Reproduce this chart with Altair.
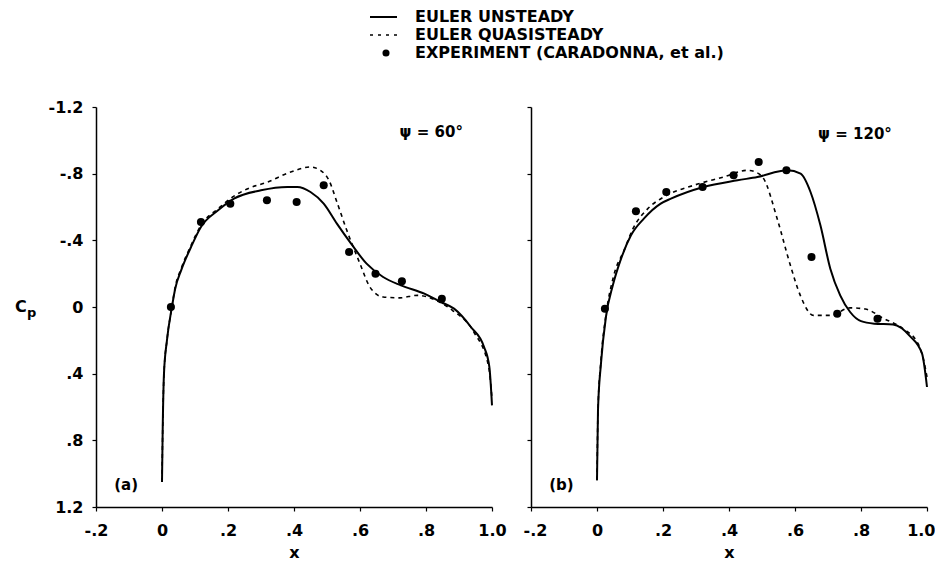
import altair as alt
import pandas as pd

FONT = "DejaVu Sans"

# ---------------- axis ticks ----------------
x_ticks = [-0.2, 0.0, 0.2, 0.4, 0.6, 0.8, 1.0]
x_tick_labels = ["-.2", "0", ".2", ".4", ".6", ".8", "1.0"]
y_ticks = [-1.2, -0.8, -0.4, 0.0, 0.4, 0.8, 1.2]
y_tick_labels = ["-1.2", "-.8", "-.4", "0", ".4", ".8", "1.2"]

legend_labels = ["EULER UNSTEADY", "EULER QUASISTEADY", "EXPERIMENT (CARADONNA, et al.)"]

# ---------------- panel (a): psi = 60 deg ----------------
a_uns_x = [0.000, 0.002, 0.006, 0.015, 0.030, 0.040, 0.058, 0.088, 0.118, 0.170, 0.218, 0.300,
           0.380, 0.410, 0.450, 0.490, 0.530, 0.573, 0.620, 0.670, 0.724, 0.795, 0.845, 0.885,
           0.936, 0.976, 0.992, 1.000]
a_uns_cp = [1.05, 0.75, 0.40, 0.20, 0.00, -0.11, -0.22, -0.36, -0.48, -0.58, -0.65, -0.70,
            -0.72, -0.72, -0.69, -0.62, -0.50, -0.38, -0.26, -0.18, -0.13, -0.08, -0.03, 0.01,
            0.12, 0.24, 0.36, 0.59]
a_qs_x = [0.000, 0.002, 0.006, 0.015, 0.030, 0.040, 0.058, 0.088, 0.118, 0.170, 0.218, 0.260,
          0.320, 0.390, 0.450, 0.480, 0.506, 0.530, 0.560, 0.600, 0.630, 0.670, 0.720, 0.775,
          0.830, 0.880, 0.945, 0.990, 1.000]
a_qs_cp = [1.05, 0.75, 0.40, 0.20, 0.00, -0.12, -0.23, -0.37, -0.49, -0.59, -0.665, -0.71,
           -0.75, -0.81, -0.84, -0.82, -0.76, -0.63, -0.46, -0.26, -0.12, -0.06, -0.055, -0.07,
           -0.04, 0.02, 0.15, 0.36, 0.55]
a_exp_x = [0.027, 0.118, 0.207, 0.318, 0.408, 0.490, 0.567, 0.647, 0.727, 0.848]
a_exp_cp = [0.00, -0.51, -0.62, -0.64, -0.63, -0.73, -0.33, -0.20, -0.155, -0.05]

# ---------------- panel (b): psi = 120 deg ----------------
b_uns_x = [0.000, 0.003, 0.012, 0.027, 0.048, 0.073, 0.103, 0.142, 0.193, 0.224, 0.323, 0.426,
           0.486, 0.577, 0.617, 0.647, 0.677, 0.707, 0.737, 0.767, 0.800, 0.840, 0.897, 0.949,
           0.985, 1.000]
b_uns_cp = [1.04, 0.62, 0.34, 0.06, -0.13, -0.29, -0.43, -0.53, -0.62, -0.65, -0.72, -0.76,
            -0.78, -0.82, -0.80, -0.69, -0.49, -0.23, -0.07, 0.03, 0.085, 0.10, 0.105, 0.176,
            0.28, 0.48]
b_qs_x = [0.000, 0.003, 0.012, 0.027, 0.051, 0.082, 0.109, 0.154, 0.202, 0.293, 0.384, 0.456,
          0.490, 0.505, 0.546, 0.586, 0.616, 0.656, 0.707, 0.767, 0.813, 0.867, 0.927, 0.973,
          0.990, 1.000]
b_qs_cp = [1.04, 0.62, 0.32, 0.05, -0.19, -0.34, -0.47, -0.59, -0.66, -0.73, -0.78, -0.82,
           -0.80, -0.77, -0.53, -0.25, -0.07, 0.05, 0.05, 0.005, 0.012, 0.067, 0.13, 0.22,
           0.32, 0.42]
b_exp_x = [0.024, 0.118, 0.210, 0.320, 0.414, 0.490, 0.574, 0.650, 0.728, 0.850]
b_exp_cp = [0.01, -0.575, -0.69, -0.72, -0.79, -0.87, -0.82, -0.30, 0.04, 0.07]

# annotation texts and anchor (data coords)
a_note, a_note_x, a_note_cp = "\u03c8 = 60\u00b0", 0.72, -1.05
b_note, b_note_x, b_note_cp = "\u03c8 = 120\u00b0", 0.67, -1.04
a_tag, b_tag = "(a)", "(b)"
tag_x, tag_cp = -0.145, 1.07


def label_expr(ticks, labels):
    expr = "''"
    for t, l in reversed(list(zip(ticks, labels))):
        expr = f"(abs(datum.value - ({t})) < 0.001 ? '{l}' : {expr})"
    return expr


def panel(uns_x, uns_cp, qs_x, qs_cp, exp_x, exp_cp, note, note_x, note_cp, tag, first):
    uns = pd.DataFrame({"x": uns_x, "cp": uns_cp, "i": list(range(len(uns_x)))})
    qs = pd.DataFrame({"x": qs_x, "cp": qs_cp, "i": list(range(len(qs_x)))})
    exp = pd.DataFrame({"x": exp_x, "cp": exp_cp})
    notes = pd.DataFrame({"x": [note_x, tag_x], "cp": [note_cp, tag_cp], "t": [note, tag],
                          "fs": [15, 15]})

    xaxis = alt.Axis(values=x_ticks, labelExpr=label_expr(x_ticks, x_tick_labels), title="x",
                     labelPadding=11, titlePadding=6, labelFlush=(not first),
                     labelFlushOffset=(8 if not first else 0), grid=False)
    yaxis = alt.Axis(values=y_ticks, labelExpr=label_expr(y_ticks, y_tick_labels), title=None,
                     labels=first, labelPadding=9, grid=False)
    xenc = alt.X("x:Q", scale=alt.Scale(domain=[-0.2, 1.0], nice=False, zero=False), axis=xaxis)
    yenc = alt.Y("cp:Q", scale=alt.Scale(domain=[-1.2, 1.2], reverse=True, nice=False, zero=False),
                 axis=yaxis)

    line_u = alt.Chart(uns).mark_line(color="black", strokeWidth=2, interpolate="monotone").encode(
        x=xenc, y=yenc, order="i:Q")
    line_q = alt.Chart(qs).mark_line(color="black", strokeWidth=1.6, strokeDash=[4, 4],
                                     interpolate="monotone").encode(x=xenc, y=yenc, order="i:Q")
    pts = alt.Chart(exp).mark_circle(color="black", size=65, opacity=1).encode(x=xenc, y=yenc)
    txt = alt.Chart(notes).mark_text(align="left", baseline="middle", font=FONT,
                                     fontWeight="bold", color="black").encode(
        x=xenc, y=yenc, text="t:N", size=alt.Size("fs:Q", scale=None, legend=None))
    layers = [line_q, line_u, pts, txt]

    if first:
        # y-axis title C_p
        cdf = pd.DataFrame({"t": ["C"]})
        pdf = pd.DataFrame({"t": ["p"]})
        layers.append(alt.Chart(cdf).mark_text(align="left", baseline="middle", font=FONT,
                                               fontWeight="bold", fontSize=16, color="black")
                      .encode(x=alt.value(-81), y=alt.datum(0), text="t:N"))
        layers.append(alt.Chart(pdf).mark_text(align="left", baseline="middle", font=FONT,
                                               fontWeight="bold", fontSize=13, color="black", dy=6)
                      .encode(x=alt.value(-69), y=alt.datum(0), text="t:N"))
        # legend
        for i, lab in enumerate(legend_labels):
            ldf = pd.DataFrame({"label": [lab]})
            layers.append(alt.Chart(ldf).mark_text(align="left", baseline="middle", font=FONT,
                                                   fontWeight="bold", fontSize=16, color="black")
                          .encode(x=alt.value(319), y=alt.value(-90 + 18 * i), text="label:N"))
        sym = pd.DataFrame({"label": legend_labels})
        layers.append(alt.Chart(sym).transform_filter(alt.datum.label == legend_labels[0])
                      .mark_rule(color="black", strokeWidth=2)
                      .encode(x=alt.value(274), x2=alt.value(301), y=alt.value(-90)))
        layers.append(alt.Chart(sym).transform_filter(alt.datum.label == legend_labels[1])
                      .mark_rule(color="black", strokeWidth=1.6, strokeDash=[3, 5])
                      .encode(x=alt.value(274), x2=alt.value(301), y=alt.value(-72)))
        layers.append(alt.Chart(sym).transform_filter(alt.datum.label == legend_labels[2])
                      .mark_circle(color="black", size=50, opacity=1)
                      .encode(x=alt.value(290), y=alt.value(-54)))

    return alt.layer(*layers).properties(width=396, height=400)


left = panel(a_uns_x, a_uns_cp, a_qs_x, a_qs_cp, a_exp_x, a_exp_cp, a_note, a_note_x, a_note_cp,
             a_tag, True)
right = panel(b_uns_x, b_uns_cp, b_qs_x, b_qs_cp, b_exp_x, b_exp_cp, b_note, b_note_x, b_note_cp,
              b_tag, False)

chart = alt.hconcat(left, right, spacing=39, bounds="flush").properties(
    padding={"left": 7, "top": 1, "right": 0, "bottom": 0},
    background="white",
).configure_axis(
    domainColor="black", domainWidth=1.5, tickColor="black", tickWidth=1.2, tickSize=4,
    labelFont=FONT, labelFontWeight="bold", labelFontSize=16, labelColor="black",
    titleFont=FONT, titleFontWeight="bold", titleFontSize=16, titleColor="black", grid=False
).configure_view(stroke=None)

chart.save("out.html", embed_options={"renderer": "svg", "actions": False})
